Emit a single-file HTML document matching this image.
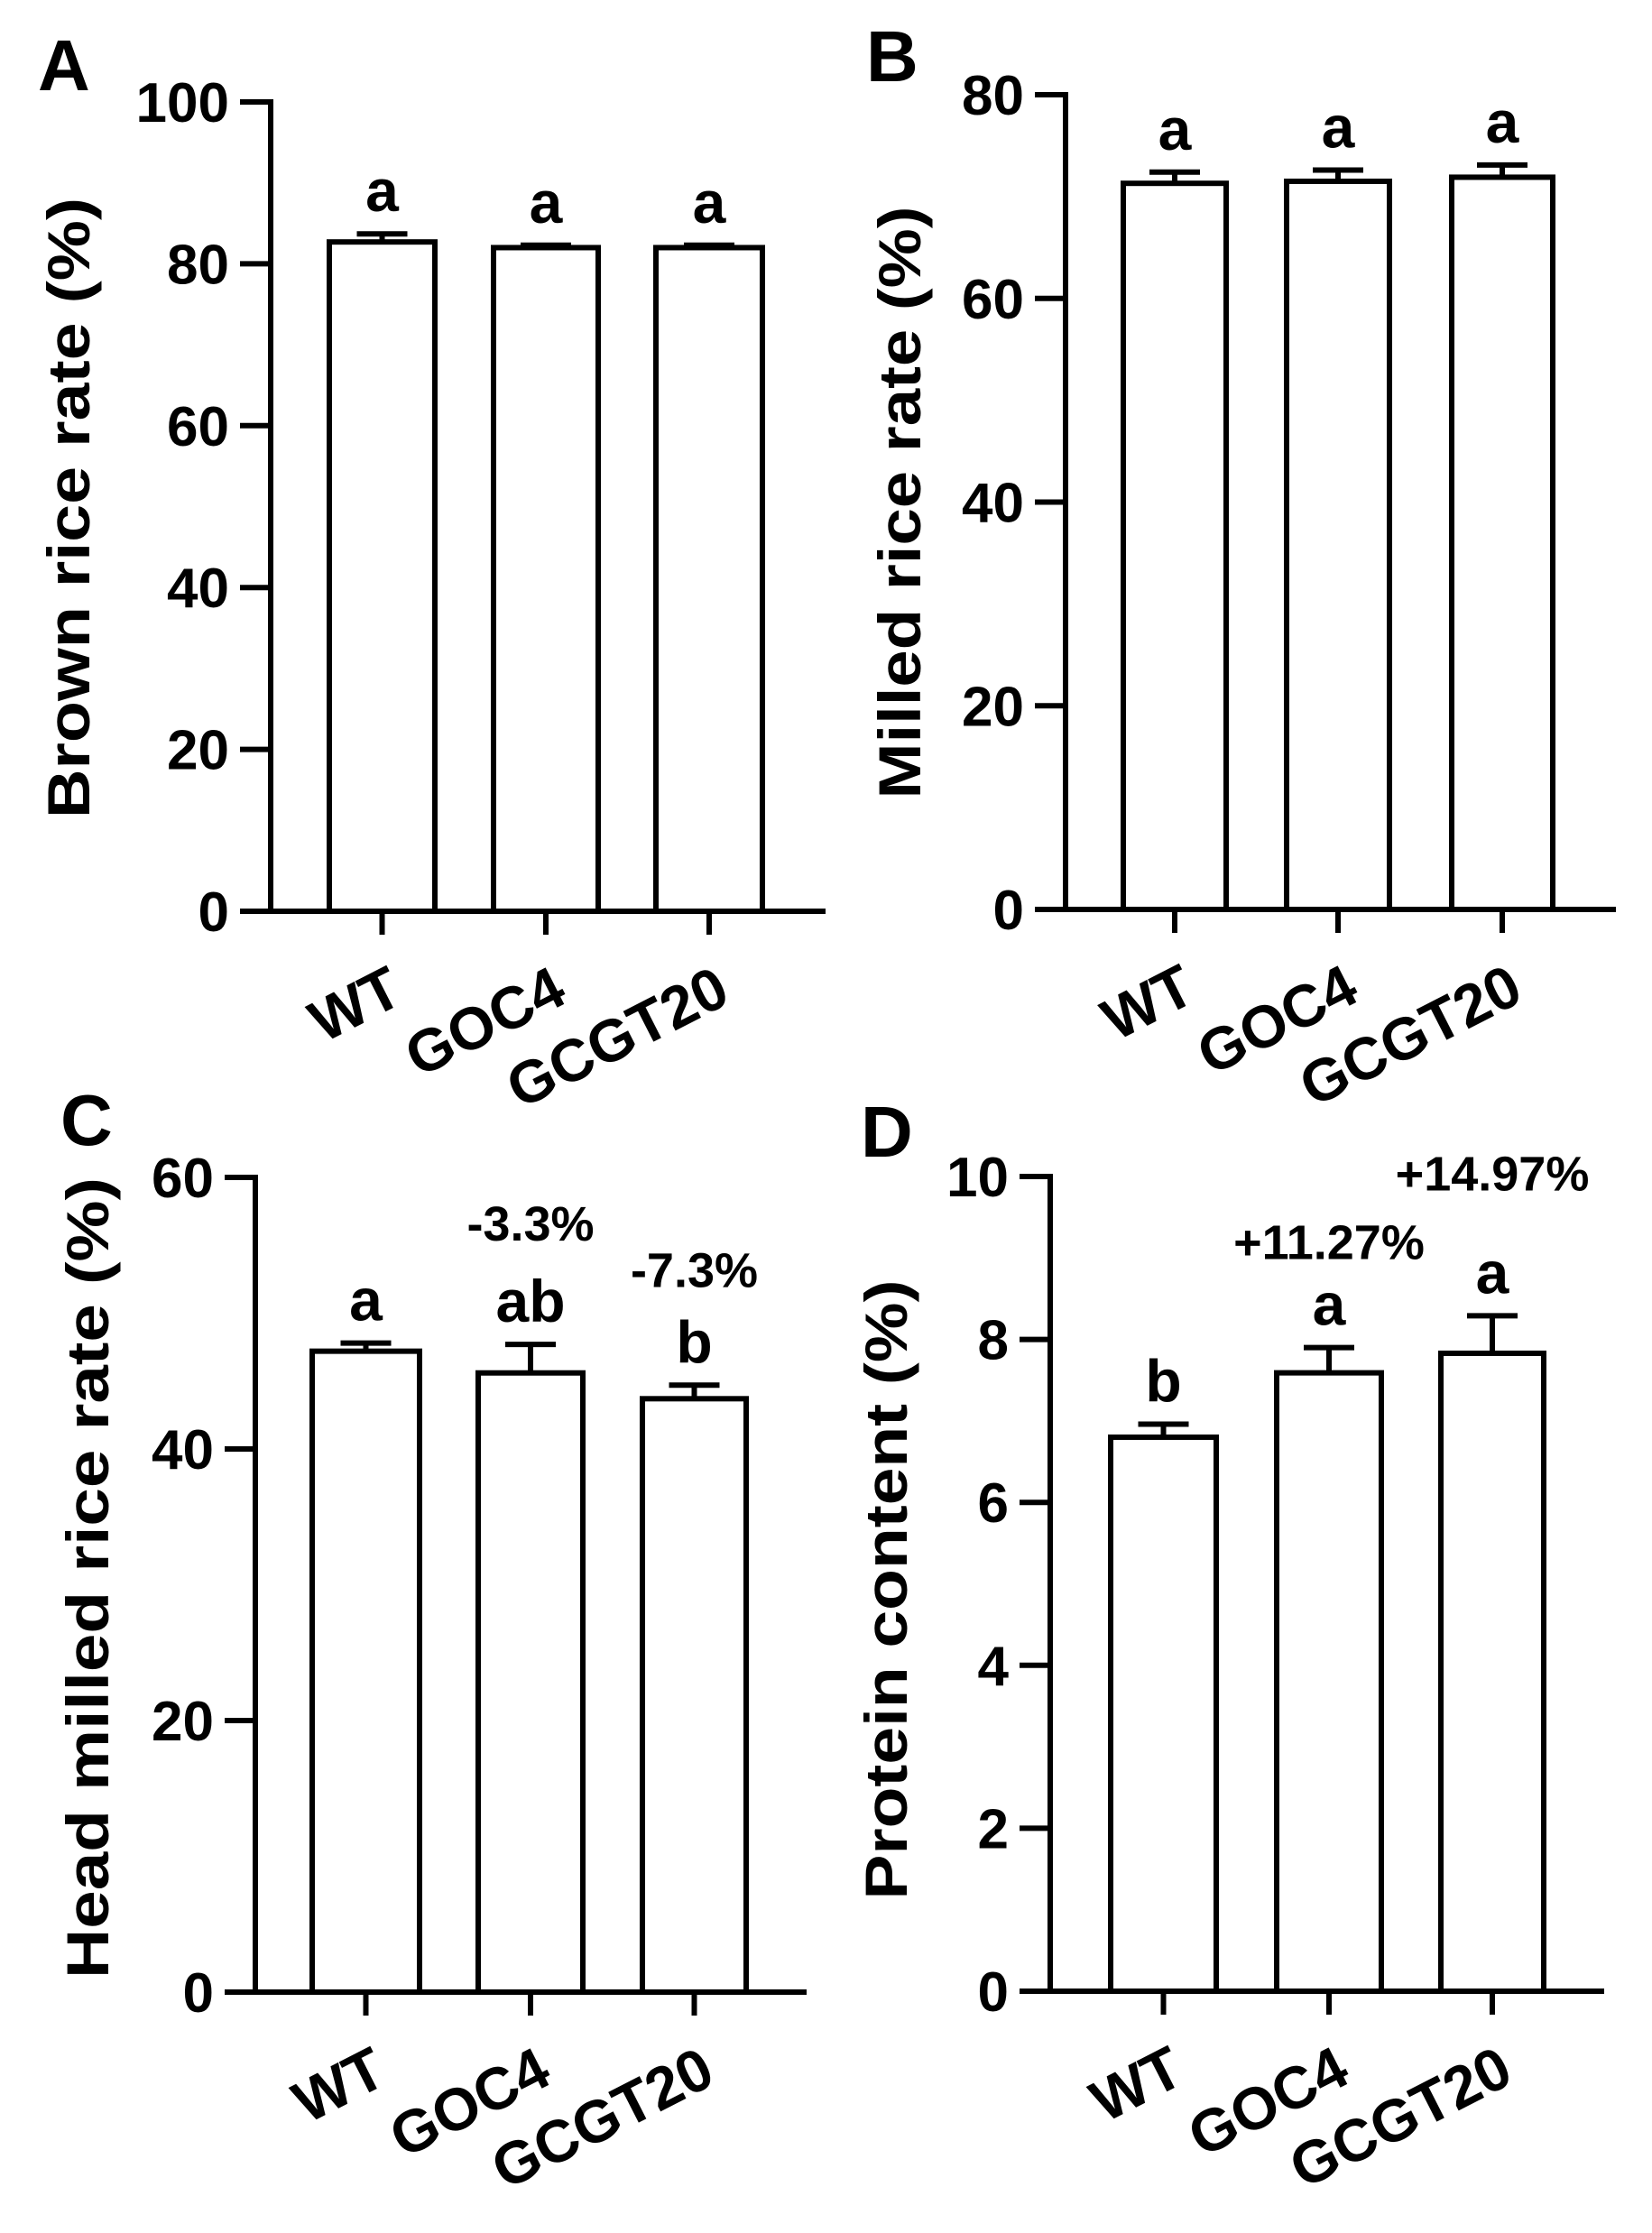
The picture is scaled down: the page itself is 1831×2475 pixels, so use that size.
<!DOCTYPE html>
<html><head><meta charset="utf-8"><style>
html,body{margin:0;padding:0;background:#fff;}
svg{display:block;font-family:"Liberation Sans",Arial,sans-serif;font-weight:bold;}
</style></head><body>
<svg id="fig" width="1831" height="2475" viewBox="0 0 1831 2475"></svg>
<script>
const categories = ["WT","GOC4","GCGT20"];
const brownValues = [82.7, 82.0, 82.0];
const brownErrors = [1.0, 0.3, 0.3];
const brownLetters = ["a","a","a"];
const brownTicks = [0,20,40,60,80,100];
const milledValues = [71.3, 71.5, 71.9];
const milledErrors = [1.1, 1.1, 1.2];
const milledLetters = ["a","a","a"];
const milledTicks = [0,20,40,60,80];
const headValues = [47.2, 45.6, 43.7];
const headErrors = [0.6, 2.1, 1.0];
const headLetters = ["a","ab","b"];
const headPct = ["","-3.3%","-7.3%"];
const headTicks = [0,20,40,60];
const proteinValues = [6.8, 7.59, 7.83];
const proteinErrors = [0.16, 0.31, 0.46];
const proteinLetters = ["b","a","a"];
const proteinPct = ["","+11.27%","+14.97%"];
const proteinTicks = [0,2,4,6,8,10];

const NS="http://www.w3.org/2000/svg";
const svg=document.getElementById('fig');
function mk(tag,attrs,parent,text){const e=document.createElementNS(NS,tag);for(const k in attrs)e.setAttribute(k,attrs[k]);if(text!==undefined)e.textContent=text;(parent||svg).appendChild(e);return e;}

const panels=[
 {letter:"A",lx:42,ly:100,title:"Brown rice rate (%)",tx:76,ty:563,tlen:688,ax:300,y0:1010,yTop:113,max:100,xEnd:915,bars:[[365,482],[547,663],[727,845]],vals:brownValues,errs:brownErrors,letters:brownLetters,pct:null,gaps:null,ticks:brownTicks,name:"brown-rice"},
 {letter:"B",lx:960,ly:90,title:"Milled rice rate (%)",tx:997,ty:557,tlen:657,ax:1181,y0:1008,yTop:105,max:80,xEnd:1791,bars:[[1245,1359],[1426,1540],[1609,1721]],vals:milledValues,errs:milledErrors,letters:milledLetters,pct:null,gaps:null,ticks:milledTicks,name:"milled-rice"},
 {letter:"C",lx:67,ly:1269,title:"Head milled rice rate (%)",tx:97,ty:1749,tlen:888,ax:283,y0:2208,yTop:1305,max:60,xEnd:894,bars:[[346,465],[530,646],[712,827]],vals:headValues,errs:headErrors,letters:headLetters,pct:headPct,gaps:[0,90,84],ticks:headTicks,name:"head-milled-rice"},
 {letter:"D",lx:954,ly:1282,title:"Protein content (%)",tx:982,ty:1762,tlen:687,ax:1164,y0:2207,yTop:1304,max:10,xEnd:1778,bars:[[1231,1348],[1415,1531],[1597,1711]],vals:proteinValues,errs:proteinErrors,letters:proteinLetters,pct:proteinPct,gaps:[0,73,114],ticks:proteinTicks,name:"protein-content"}
];

panels.forEach(p=>{
 const g=mk('g',{});
 
 
 const y=v=>p.y0-(v/p.max)*(p.y0-p.yTop);
 const L=mk('text',{x:p.lx,y:p.ly,'font-size':80},g,p.letter);
 
 
 const T=mk('text',{x:0,y:0,'font-size':66,'text-anchor':'middle','dominant-baseline':'central',textLength:p.tlen,lengthAdjust:'spacingAndGlyphs',transform:`translate(${p.tx},${p.ty}) rotate(-90)`},g,p.title);
 
 
 p.vals.forEach((v,i)=>{
  const [x1,x2]=p.bars[i];const cx=(x1+x2)/2;
  const ytop=y(v), ye=y(v+p.errs[i]);
  const el=mk('line',{x1:cx,x2:cx,y1:ytop,y2:ye,stroke:'#000','stroke-width':6},g);
  
  
  const cap=mk('line',{x1:cx-28,x2:cx+28,y1:ye,y2:ye,stroke:'#000','stroke-width':6},g);
  
  
  const r=mk('rect',{x:x1,y:ytop,width:x2-x1,height:p.y0-ytop,fill:'#fff',stroke:'#000','stroke-width':6},g);
  
  
  const lt=mk('text',{x:cx,y:ye-25,'font-size':66,'text-anchor':'middle'},g,p.letters[i]);
  
  
  if(p.pct&&p.pct[i]){
   const pt=mk('text',{x:cx,y:ye-25-p.gaps[i],'font-size':54,'text-anchor':'middle'},g,p.pct[i]);
   
   
  }
  const bt=mk('line',{x1:cx,x2:cx,y1:p.y0,y2:p.y0+26,stroke:'#000','stroke-width':6},g);
  
  
  const xl=mk('text',{x:0,y:0,'font-size':66,'text-anchor':'end',transform:`translate(${cx+26},${p.y0+100}) rotate(-27)`},g,categories[i]);
  
  
 });
 const ya=mk('line',{x1:p.ax,x2:p.ax,y1:p.yTop-3,y2:p.y0+3,stroke:'#000','stroke-width':6},g);
 
 
 const xa=mk('line',{x1:p.ax-34,x2:p.xEnd,y1:p.y0,y2:p.y0,stroke:'#000','stroke-width':6},g);
 
 
 p.ticks.forEach(t=>{
  const ty=y(t);
  const tk=mk('line',{x1:p.ax-34,x2:p.ax,y1:ty,y2:ty,stroke:'#000','stroke-width':6},g);
  
  
  const tl=mk('text',{x:p.ax-46,y:ty+22,'font-size':62,'text-anchor':'end'},g,String(t));
  
  
 });
});
</script>
</body></html>
